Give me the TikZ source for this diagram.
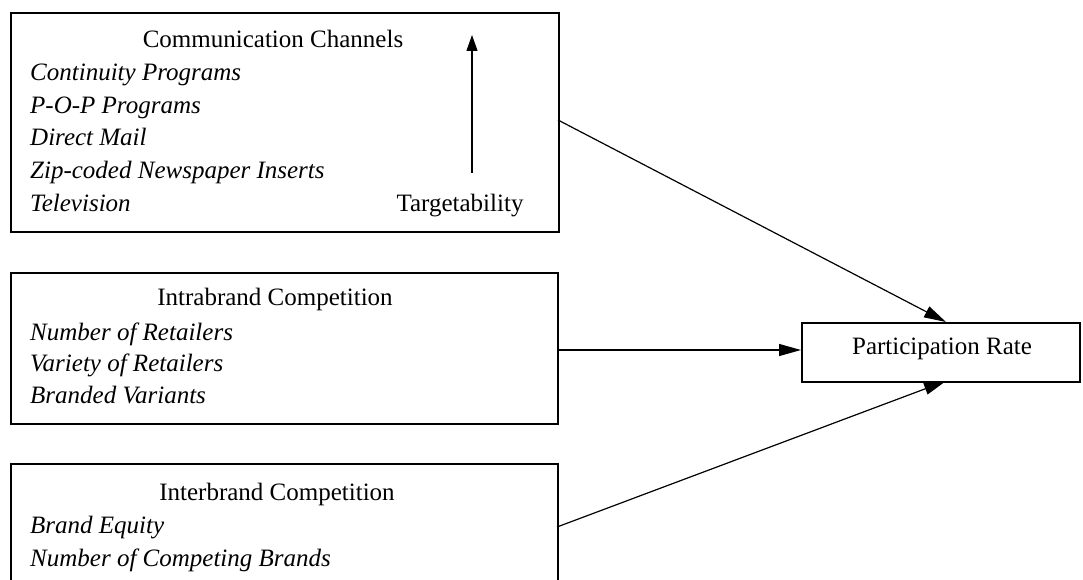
\documentclass[tikz,border=0pt]{standalone}
\usepackage{fontspec}
\setmainfont{Liberation Serif}
\usetikzlibrary{arrows.meta}
\begin{document}
\begin{tikzpicture}[x=1pt,y=-1pt,
  box/.style={draw, line width=2.3pt, rectangle, inner sep=0pt, anchor=north west},
  txt/.style={inner sep=0pt, font=\fontsize{25}{30}\selectfont},
  ital/.style={txt, anchor=base west, font=\fontsize{25}{30}\selectfont\itshape},
  ttl/.style={txt, anchor=base},
  conn/.style={line width=1.2pt, -{Triangle[length=22pt,width=12pt]}},
  tgt/.style={line width=1.2pt, -{Triangle[length=16pt,width=11pt]}}]
\useasboundingbox (0,0) rectangle (1083,580);
\fill[white] (0,0) rectangle (1083,580);

% Box 1
\node[box, minimum width=548pt, minimum height=219pt] (b1) at (10,12) {};
\node[ttl] (t1) at (273,48) {Communication Channels};
\node[ital] (c1) at (30,81) {Continuity Programs};
\node[ital] (c2) at (30,113.5) {P-O-P Programs};
\node[ital] (c3) at (30,146) {Direct Mail};
\node[ital] (c4) at (30,178.5) {Zip-coded Newspaper Inserts};
\node[ital] (c5) at (30,211) {Television};
\node[ttl] (tg) at (460,211) {Targetability};
\coordinate (tga) at (472,173);
\coordinate (tgb) at (472,35);
\draw[tgt] (tga) -- (tgb);

% Box 2
\node[box, minimum width=547pt, minimum height=151pt] (b2) at (10,272) {};
\node[ttl] (t2) at (275,305) {Intrabrand Competition};
\node[ital] (d1) at (30,340) {Number of Retailers};
\node[ital] (d2) at (30,371) {Variety of Retailers};
\node[ital] (d3) at (30,403) {Branded Variants};

% Box 3
\node[box, minimum width=547pt, minimum height=140pt] (b3) at (10,463) {};
\node[ttl] (t3) at (277,500) {Interbrand Competition};
\node[ital] (e1) at (30,533) {Brand Equity};
\node[ital] (e2) at (30,566) {Number of Competing Brands};

% Participation Rate
\node[box, minimum width=278pt, minimum height=59pt] (pr) at (801,322) {};
\node[txt] (prt) at (942,349) {Participation Rate};

% Connectors
\coordinate (s1) at (558,120);
\coordinate (s2) at (557,350);
\coordinate (s3) at (557,527);
\coordinate (p1) at (946,322);
\coordinate (p2) at (801,350);
\coordinate (p3) at (946,381);
\draw[conn] (s1) -- (p1);
\draw[conn] (s2) -- (p2);
\draw[conn] (s3) -- (p3);
\end{tikzpicture}
\end{document}
